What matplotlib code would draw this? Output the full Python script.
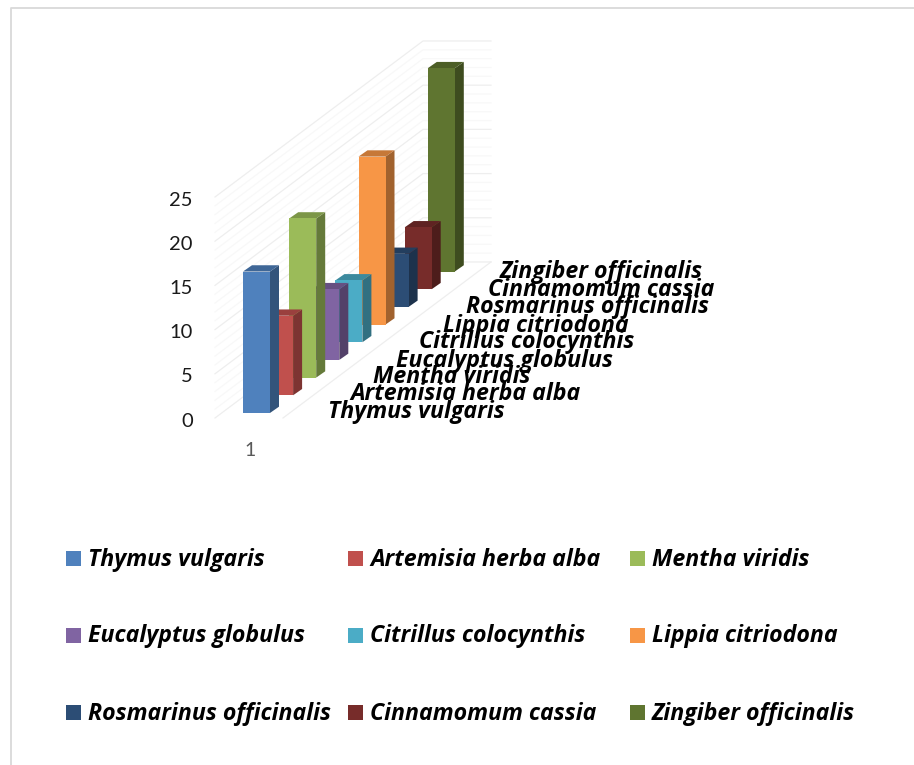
import matplotlib
matplotlib.use('Agg')
import matplotlib.pyplot as plt
from matplotlib.patches import Polygon, Rectangle

# species and their values, front to back
species = ['Thymus vulgaris', 'Artemisia herba alba', 'Mentha viridis',
           'Eucalyptus globulus', 'Citrillus colocynthis', 'Lippia citriodona',
           'Rosmarinus officinalis', 'Cinnamomum cassia', 'Zingiber officinalis']
values = [16, 9, 18, 8, 7, 19, 6, 7, 23]
colors = ['#4F81BD', '#C0504D', '#9BBB59', '#8064A2', '#4BACC6',
          '#F79646', '#2C4D75', '#772C2A', '#5F7530']
y_ticks = [0, 5, 10, 15, 20, 25]
x_tick_label = '1'

W, H = 914, 765
PX_PER_UNIT = 8.84       # vertical pixels per value unit
ZERO_PX = 418            # pixel row of value 0 at the front of the floor
SLOT_DX = 23.1           # shift to the right per series along the depth axis
SLOT_RISE = 2.0          # rise in value units per series along the depth axis

LABEL_FONT = 'Open Sans'
TICK_FONT = 'Lato'

fig = plt.figure(figsize=(W / 100, H / 100), dpi=100)
ax = fig.add_axes([0, 0, 1, 1])
ax.set_xlim(0, W)
ax.set_ylim(-(H - ZERO_PX) / PX_PER_UNIT, ZERO_PX / PX_PER_UNIT)
ax.axis('off')


def shade(color, k):
    r, g, b = matplotlib.colors.to_rgb(color)
    return (r * k, g * k, b * k)


def px_y(row):
    # pixel row to value units, used for things placed outside the plot
    return (ZERO_PX - row) / PX_PER_UNIT


# outer frame of the chart area
ax.plot([10.5, 10.5, W], [px_y(H), px_y(7.5), px_y(7.5)], color='#d9d9d9', lw=1.3, zorder=1)

# walls and floor: a gridline for every unit, stronger every fifth
WALL_LEFT = 215
WALL_DX = 208
WALL_RISE = 17.65
BACK_W = 68
for v in range(0, 26):
    major = v % 5 == 0
    c = '#eeeeee' if major else '#f8f8f8'
    ax.plot([WALL_LEFT, WALL_LEFT + WALL_DX, WALL_LEFT + WALL_DX + BACK_W],
            [v, v + WALL_RISE, v + WALL_RISE], color=c, lw=0.9, zorder=1)
ax.plot([WALL_LEFT + BACK_W, WALL_LEFT + BACK_W + WALL_DX], [0, WALL_RISE],
        color='#eeeeee', lw=0.9, zorder=1)

# bars, drawn back to front so the nearer ones cover the farther ones
BAR_X0 = 243
BAR_W = 27
BAR_FLOOR = 0.57
SIDE_DX = 9
SIDE_RISE = 0.71
for i in range(len(values) - 1, -1, -1):
    x = BAR_X0 + SLOT_DX * i
    y0 = BAR_FLOOR + SLOT_RISE * i
    y1 = y0 + values[i]
    z = 10 + (len(values) - i)
    ax.add_patch(Polygon([(x + BAR_W, y0), (x + BAR_W + SIDE_DX, y0 + SIDE_RISE),
                          (x + BAR_W + SIDE_DX, y1 + SIDE_RISE), (x + BAR_W, y1)],
                         facecolor=shade(colors[i], 0.65), edgecolor='none', zorder=z))
    ax.add_patch(Polygon([(x, y1), (x + BAR_W, y1), (x + BAR_W + SIDE_DX, y1 + SIDE_RISE),
                          (x + SIDE_DX, y1 + SIDE_RISE)],
                         facecolor=shade(colors[i], 0.8), edgecolor='none', zorder=z))
    ax.add_patch(Polygon([(x, y0), (x + BAR_W, y0), (x + BAR_W, y1), (x, y1)],
                         facecolor=colors[i], edgecolor='none', zorder=z))

# value axis labels
for v in y_ticks:
    ax.text(193, v - 0.35, str(v), ha='right', va='center', family=TICK_FONT, fontsize=14.5,
            color='#1a1a1a', zorder=40)
ax.text(250, px_y(450), x_tick_label, ha='center', va='center', family=TICK_FONT, fontsize=14,
        color='#595959', zorder=40)

# series names along the depth axis, overlapping as they do with this tight a step
label_left = [328, 350, 373, 396, 419, 443, 466, 488, 500]
label_base = [418, 400, 383, 367, 348, 332, 313, 296, 278]
for i, name in enumerate(species):
    ax.text(label_left[i], px_y(label_base[i]), name, ha='left', va='baseline', family=LABEL_FONT,
            style='italic', weight='bold', fontsize=16.7, color='black', zorder=40 + i)

# legend in three rows of three
legend_cols = [66, 348, 630]
legend_rows = [558.5, 635.5, 712.5]
for i, name in enumerate(species):
    lx = legend_cols[i % 3]
    ly = legend_rows[i // 3]
    ax.add_patch(Rectangle((lx, px_y(ly + 7.5)), 15, 15 / PX_PER_UNIT,
                           facecolor=colors[i], edgecolor='none', zorder=40))
    ax.text(lx + 22, px_y(ly + 7), name, ha='left', va='baseline', family=LABEL_FONT,
            style='italic', weight='bold', fontsize=16.7, color='black', zorder=40)

fig.savefig('out.png', dpi=100)
